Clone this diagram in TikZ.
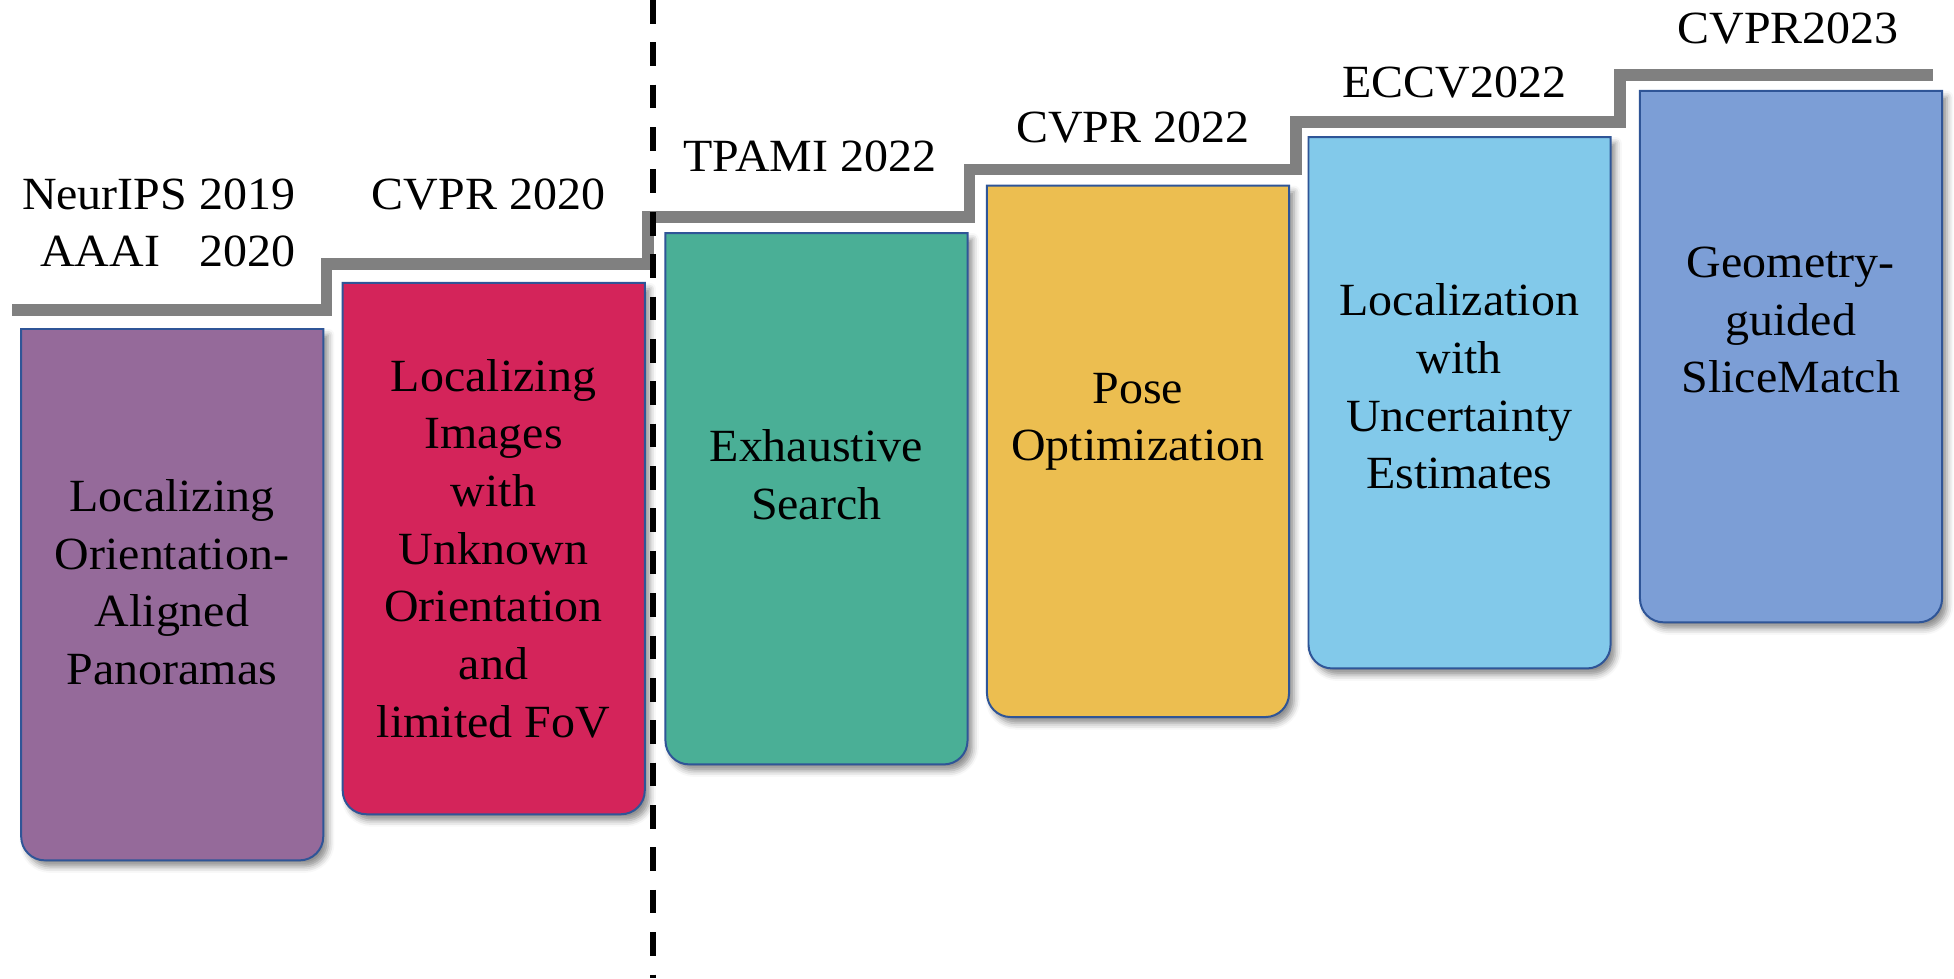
\documentclass[tikz,border=0pt]{standalone}
\usepackage{fontspec}
\setmainfont{Liberation Serif}[FakeStretch=1.04]
\usetikzlibrary{shadows.blur}
\definecolor{cpurple}{HTML}{956A9A}
\definecolor{cred}{HTML}{D4245A}
\definecolor{cgreen}{HTML}{4AAF96}
\definecolor{cyellow}{HTML}{ECBE50}
\definecolor{clight}{HTML}{82C9EA}
\definecolor{cblue}{HTML}{7C9ED6}
\definecolor{cborder}{HTML}{2F5597}
\definecolor{cstair}{HTML}{808080}
\newcommand\cardshape[2]{%
  \draw[cardline, fill=#2] (#1.north west) -- (#1.north east)
    -- ([yshift=19pt]#1.south east) arc[start angle=0,end angle=-90,radius=19pt]
    -- ([xshift=19pt]#1.south west) arc[start angle=270,end angle=180,radius=19pt]
    -- cycle;}
\tikzset{
  card/.style={anchor=north west, minimum width=242pt, minimum height=426pt, inner sep=0pt, draw=none},
  cardline/.style={draw=cborder, line width=1.6pt,
    blur shadow={shadow xshift=4pt, shadow yshift=-5pt, shadow blur radius=5pt, shadow opacity=45}},
  txt/.style={font=\fontsize{37}{46.3}\selectfont, inner sep=0pt, align=center},
  venue/.style={font=\fontsize{37}{46.3}\selectfont, inner sep=0pt, anchor=base},
  stair/.style={draw=cstair, line width=9.4pt, line join=miter},
  divider/.style={draw=black, line width=4.5pt, dash pattern=on 19pt off 15pt}
}
\begin{document}
\begin{tikzpicture}[x=1pt,y=1pt]
\useasboundingbox (0,0) rectangle (1568,-785);

% staircase timeline
\coordinate (s0) at (10,-249);
\coordinate (s1) at (1551,-60);
\draw[stair] (s0) -- (262,-249) -- (262,-212) -- (520,-212) -- (520,-174) -- (778,-174)
  -- (778,-136) -- (1040,-136) -- (1040,-98) -- (1300,-98) -- (1300,-60) -- (s1);

% cards
\node[card] (b1) at (17,-264) {};
\node[card] (b2) at (275,-227) {};
\node[card] (b3) at (534,-187) {};
\node[card] (b4) at (792,-149) {};
\node[card] (b5) at (1050,-110) {};
\node[card] (b6) at (1316,-73) {};
\cardshape{b1}{cpurple}
\cardshape{b2}{cred}
\cardshape{b3}{cgreen}
\cardshape{b4}{cyellow}
\cardshape{b5}{clight}
\cardshape{b6}{cblue}

% card texts
\node[txt, anchor=north] (t1) at (138,-384.5) {Localizing\\Orientation-\\Aligned\\Panoramas};
\node[txt, anchor=north] (t2) at (396,-288) {Localizing\\Images\\with\\Unknown\\Orientation\\and\\limited FoV};
\node[txt, anchor=north] (t3) at (655,-344.5) {Exhaustive\\Search};
\node[txt, anchor=north] (t4) at (913,-299) {Pose\\Optimization};
\node[txt, anchor=north] (t5) at (1171,-227.5) {Localization\\with\\Uncertainty\\Estimates};
\node[txt, anchor=north] (t6) at (1437,-198) {Geometry-\\guided\\SliceMatch};

% venues
\node[txt, align=right, anchor=north east] (v1) at (237,-143) {NeurIPS 2019\\AAAI\hspace{0.85em}2020};
\node[venue] (v2) at (392,-168) {CVPR 2020};
\node[venue] (v3) at (650,-138) {TPAMI 2022};
\node[venue] (v4) at (909,-114) {CVPR 2022};
\node[venue] (v5) at (1167,-78) {ECCV2022};
\node[venue] (v6) at (1435,-35) {CVPR2023};

% divider
\coordinate (dtop) at (524,0);
\coordinate (dbot) at (524,-785);
\draw[divider] (dtop) -- (dbot);
\end{tikzpicture}
\end{document}
